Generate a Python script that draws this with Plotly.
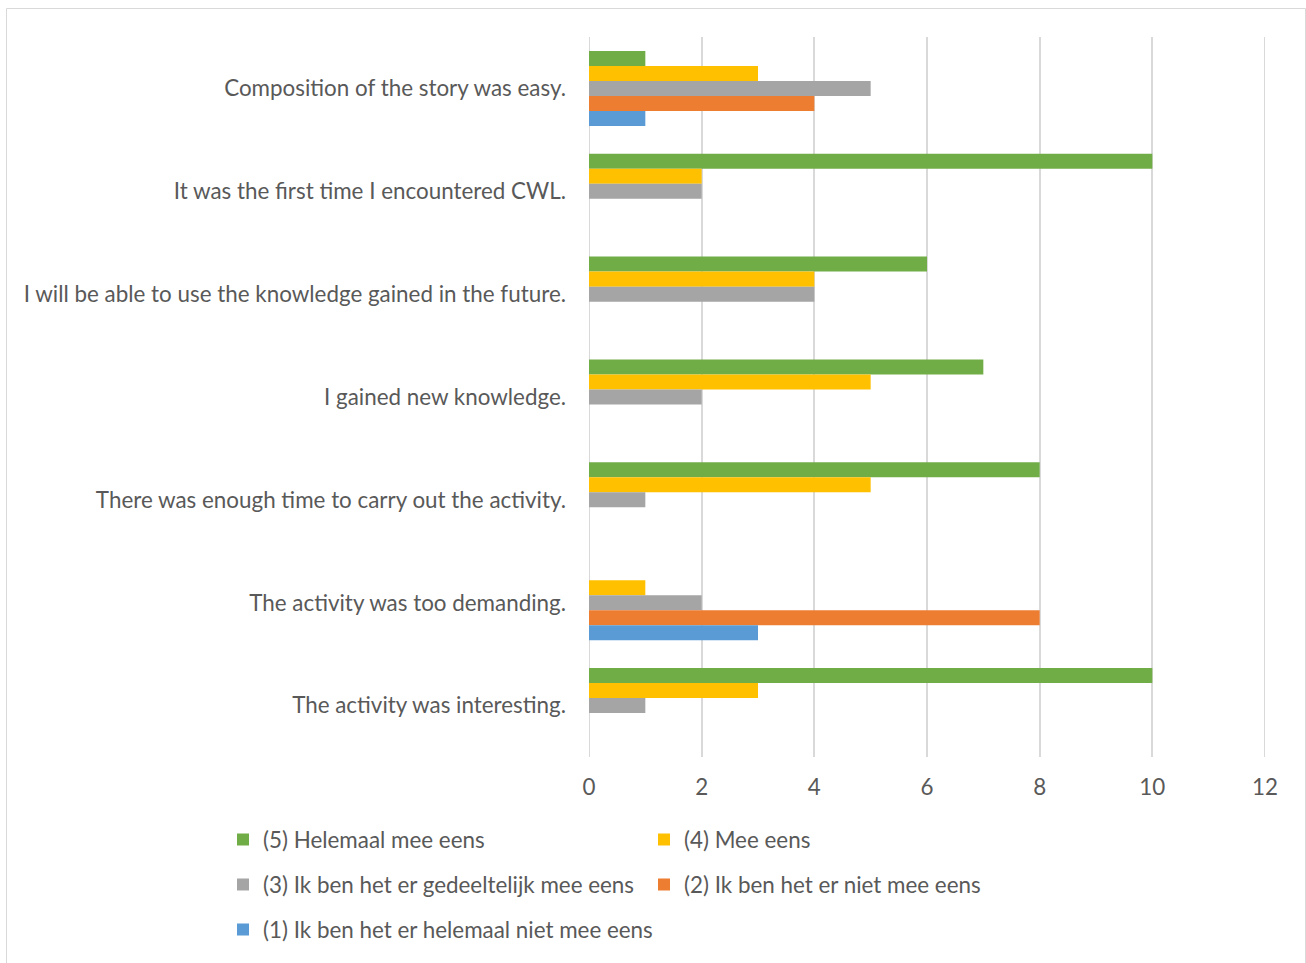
import plotly.graph_objects as go

# Survey statements, listed top to bottom as they appear on the chart
statements = [
    "Composition of the story was easy.",
    "It was the first time I encountered CWL.",
    "I will be able to use the knowledge gained in the future.",
    "I gained new knowledge.",
    "There was enough time to carry out the activity.",
    "The activity was too demanding.",
    "The activity was interesting.",
]

# Number of responses per answer option
helemaal_mee_eens = [1, 10, 6, 7, 8, 0, 10]          # (5)
mee_eens = [3, 2, 4, 5, 5, 1, 3]                     # (4)
gedeeltelijk_mee_eens = [5, 2, 4, 2, 1, 2, 1]        # (3)
niet_mee_eens = [4, 0, 0, 0, 0, 8, 0]                # (2)
helemaal_niet_mee_eens = [1, 0, 0, 0, 0, 3, 0]       # (1)

series_names = [
    "(5) Helemaal mee eens",
    "(4) Mee eens",
    "(3) Ik ben het er gedeeltelijk mee eens",
    "(2) Ik ben het er niet mee eens",
    "(1) Ik ben het er helemaal niet mee eens",
]
series_values = [
    helemaal_mee_eens,
    mee_eens,
    gedeeltelijk_mee_eens,
    niet_mee_eens,
    helemaal_niet_mee_eens,
]
series_colors = ["#70AD47", "#FFC000", "#A5A5A5", "#ED7D31", "#5B9BD5"]
series_legends = ["legend", "legend", "legend2", "legend2", "legend3"]

x_ticks = [0, 2, 4, 6, 8, 10, 12]

FONT = "Lato"
FONT_SIZE = 22.4
TEXT_COLOR = "#595959"
GRID_COLOR = "#D9D9D9"

W, H = 1306, 963
L, R, T, B = 589, 41, 37, 206
PW, PH = W - L - R, H - T - B


def px_x(p):
    return (p - L) / PW


def px_y(p):
    return (H - B - p) / PH


fig = go.Figure()
for name, vals, color, lg in zip(series_names, series_values, series_colors, series_legends):
    fig.add_trace(go.Bar(
        y=statements,
        x=vals,
        name=name,
        orientation="h",
        marker=dict(color=color, line=dict(width=0)),
        legend=lg,
        hoverinfo="x+name",
    ))

legend_common = dict(
    orientation="h",
    xanchor="left",
    yanchor="middle",
    font=dict(family=FONT, size=FONT_SIZE, color=TEXT_COLOR),
    bgcolor="rgba(0,0,0,0)",
    entrywidthmode="pixels",
    itemwidth=30,
    traceorder="normal",
)

# Gridlines at the two ends of the value axis (plotly skips grid at range edges)
edge_lines = [
    dict(
        type="line",
        xref="x", yref="paper",
        x0=v, x1=v, y0=0, y1=1,
        line=dict(color=GRID_COLOR, width=2),
        layer="below",
    )
    for v in (x_ticks[0], x_ticks[-1])
]

fig.update_layout(
    width=W,
    height=H,
    margin=dict(l=L, r=R, t=T, b=B, pad=0),
    paper_bgcolor="white",
    plot_bgcolor="white",
    barmode="group",
    bargap=0.27,
    bargroupgap=0,
    font=dict(family=FONT, size=FONT_SIZE, color=TEXT_COLOR),
    xaxis=dict(
        range=[x_ticks[0], x_ticks[-1]],
        tickvals=x_ticks,
        ticktext=[str(v) for v in x_ticks],
        showgrid=True,
        gridcolor=GRID_COLOR,
        gridwidth=2,
        zeroline=False,
        showline=False,
        ticks="",
        ticklabelstandoff=15,
        tickfont=dict(family=FONT, size=FONT_SIZE, color=TEXT_COLOR),
        fixedrange=True,
    ),
    yaxis=dict(
        autorange="reversed",
        showgrid=False,
        zeroline=False,
        showline=False,
        ticks="",
        ticklabelstandoff=22,
        tickfont=dict(family=FONT, size=FONT_SIZE, color=TEXT_COLOR),
        fixedrange=True,
    ),
    legend=dict(x=px_x(223), y=px_y(840), entrywidth=376, **legend_common),
    legend2=dict(x=px_x(223), y=px_y(885), entrywidth=376, **legend_common),
    legend3=dict(x=px_x(223), y=px_y(930), entrywidth=520, **legend_common),
    shapes=edge_lines + [
        dict(
            type="rect",
            xref="paper", yref="paper",
            x0=px_x(6.5), x1=px_x(1305.5),
            y0=px_y(975), y1=px_y(8.5),
            line=dict(color=GRID_COLOR, width=1),
            fillcolor="rgba(0,0,0,0)",
            layer="below",
        )
    ],
)

fig.write_html("out.html")
